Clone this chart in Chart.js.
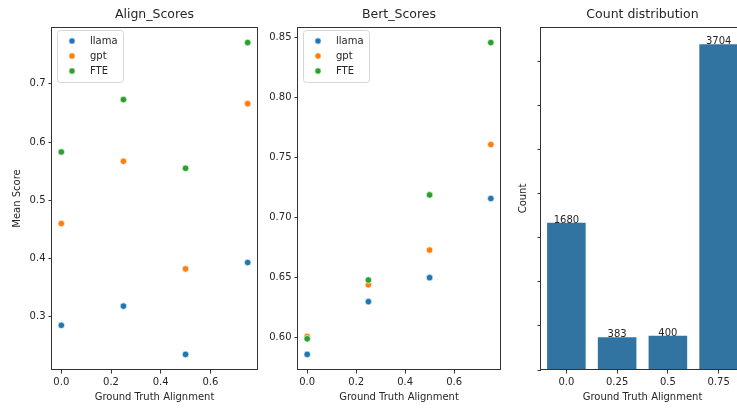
<!DOCTYPE html>
<html><head><meta charset="utf-8">
<script src="https://cdn.jsdelivr.net/npm/chart.js@4"></script>
<style>
html,body{margin:0;padding:0;background:#fff;width:737px;height:408px;overflow:hidden;position:relative}
canvas{position:absolute;top:0}
</style></head><body>
<canvas id="c1" width="262" height="408" style="left:0px"></canvas>
<canvas id="c2" width="247" height="408" style="left:258px"></canvas>
<canvas id="c3" width="245" height="408" style="left:504px"></canvas>
<script>
// ---- data ----
const groundTruth = [0, 0.25, 0.5, 0.75];
const seriesNames = ['llama', 'gpt', 'FTE'];
const alignLlama = [0.285, 0.318, 0.235, 0.393];
const alignGpt   = [0.460, 0.567, 0.382, 0.666];
const alignFte   = [0.583, 0.673, 0.555, 0.771];
const bertLlama  = [0.586, 0.630, 0.650, 0.716];
const bertGpt    = [0.601, 0.644, 0.673, 0.761];
const bertFte    = [0.599, 0.648, 0.719, 0.846];
const countLabels = ['0.0', '0.25', '0.5', '0.75'];
const counts = [1680, 383, 400, 3704];
const scoreXTicks = [0, 0.2, 0.4, 0.6];
const alignYTicks = [0.3, 0.4, 0.5, 0.6, 0.7];
const bertYTicks = [0.60, 0.65, 0.70, 0.75, 0.80, 0.85];
const countYTicks = [0, 500, 1000, 1500, 2000, 2500, 3000, 3500];

// ---- style ----
const seriesColors = ['#1f77b4', '#ff7f0e', '#2ca02c'];
const barColor = '#3274a1';
const textColor = '#262626';
const FONT = 'DejaVu Sans';
Chart.defaults.font.family = FONT;
Chart.defaults.color = textColor;

function padRange(arr) {
  const mn = Math.min(...arr), mx = Math.max(...arr), m = (mx - mn) * 0.05;
  return [mn - m, mx + m];
}

const spines = {
  id: 'spines',
  afterDraw(chart) {
    const a = chart.chartArea, ctx = chart.ctx;
    ctx.save();
    ctx.strokeStyle = '#333';
    ctx.lineWidth = 1;
    ctx.strokeRect(Math.round(a.left) - 0.5, Math.round(a.top) + 0.5,
                   Math.round(a.right) - Math.round(a.left) + 1, Math.round(a.bottom) - Math.round(a.top) - 1);
    ctx.restore();
  }
};

const legendBox = {
  id: 'legendBox',
  afterDatasetsDraw(chart, args, opts) {
    if (!opts || !opts.show) return;
    const a = chart.chartArea, ctx = chart.ctx;
    const x = a.left + 5, y = a.top + 3, w = 66, h = 52, r = 3;
    ctx.save();
    ctx.beginPath();
    ctx.roundRect(x + 0.5, y + 0.5, w, h, r);
    ctx.fillStyle = 'rgba(255,255,255,0.8)';
    ctx.fill();
    ctx.strokeStyle = '#d6d6d6';
    ctx.lineWidth = 1;
    ctx.stroke();
    ctx.font = '10px "' + FONT + '"';
    ctx.textBaseline = 'middle';
    ctx.textAlign = 'left';
    chart.data.datasets.forEach((ds, i) => {
      const cy = y + 11 + i * 15;
      ctx.beginPath();
      ctx.arc(x + 15, cy, 3.2, 0, Math.PI * 2);
      ctx.fillStyle = ds.backgroundColor;
      ctx.fill();
      ctx.strokeStyle = '#fff';
      ctx.lineWidth = 0.7;
      ctx.stroke();
      ctx.fillStyle = textColor;
      ctx.fillText(ds.label, x + 33, cy + 0.5);
    });
    ctx.restore();
  }
};

const barLabels = {
  id: 'barLabels',
  afterDatasetsDraw(chart, args, opts) {
    if (!opts || !opts.show) return;
    const ctx = chart.ctx;
    const meta = chart.getDatasetMeta(0);
    const vals = chart.data.datasets[0].data;
    ctx.save();
    ctx.font = '10px "' + FONT + '"';
    ctx.fillStyle = textColor;
    ctx.textAlign = 'center';
    ctx.textBaseline = 'alphabetic';
    meta.data.forEach((bar, i) => {
      ctx.fillText(String(vals[i]), bar.x, bar.y + 1);
    });
    ctx.restore();
  }
};

const tickFont = { size: 10 };
const gridOpts = { display: true, drawOnChartArea: false, drawTicks: true, tickLength: 3.5, tickColor: '#333', tickWidth: 1 };

function titleOpts(text) {
  return { display: true, fullSize: false, text: text, color: textColor,
           font: { size: 12.5, weight: 'normal' }, padding: { top: 7.5, bottom: 4.5 } };
}

function xTitle(text) {
  return { display: true, text: text, color: textColor, font: { size: 10 }, padding: { top: 2, bottom: 4.5 } };
}

function scatterChart(id, title, ys, yTicks, yWidth, yLabel, yTitlePad) {
  const all = [].concat(...ys);
  const [ymin, ymax] = padRange(all);
  const [xmin, xmax] = padRange(groundTruth);
  const datasets = ys.map((arr, k) => ({
    label: seriesNames[k],
    data: groundTruth.map((x, i) => ({ x: x, y: arr[i] })),
    backgroundColor: seriesColors[k],
    borderColor: '#ffffff',
    borderWidth: 0.7,
    pointRadius: 3.3,
    order: 3 - k
  }));
  return new Chart(document.getElementById(id), {
    type: 'scatter',
    data: { datasets: datasets },
    options: {
      responsive: false, animation: false,
      layout: { padding: { left: 0, right: 5, top: 0, bottom: 0 } },
      plugins: {
        legend: { display: false }, tooltip: { enabled: false },
        title: titleOpts(title),
        legendBox: { show: true }
      },
      scales: {
        x: {
          type: 'linear', min: xmin, max: xmax,
          afterBuildTicks: s => { s.ticks = scoreXTicks.map(v => ({ value: v })); },
          afterFit: s => { s.height = 38; },
          ticks: { font: tickFont, padding: 3, maxRotation: 0, callback: v => v.toFixed(1) },
          grid: gridOpts, border: { display: false },
          title: xTitle('Ground Truth Alignment')
        },
        y: {
          type: 'linear', min: ymin, max: ymax,
          afterBuildTicks: s => { s.ticks = yTicks.map(v => ({ value: v })); },
          afterFit: s => { s.width = yWidth; },
          ticks: { font: tickFont, padding: 3,
                   callback: v => (yTicks === bertYTicks ? v.toFixed(2) : v.toFixed(1)) },
          grid: gridOpts, border: { display: false },
          title: yLabel ? { display: true, text: yLabel, color: textColor, font: { size: 10 },
                            padding: { top: yTitlePad, bottom: 2 } } : { display: false }
        }
      }
    },
    plugins: [spines, legendBox]
  });
}

scatterChart('c1', 'Align_Scores', [alignLlama, alignGpt, alignFte], alignYTicks, 52, 'Mean Score', 11.3);
scatterChart('c2', 'Bert_Scores', [bertLlama, bertGpt, bertFte], bertYTicks, 40, null, 0);

new Chart(document.getElementById('c3'), {
  type: 'bar',
  data: {
    labels: countLabels,
    datasets: [{
      label: 'Count', data: counts,
      backgroundColor: barColor,
      borderColor: 'rgba(255,255,255,0.35)', borderWidth: 1,
      barPercentage: 0.8, categoryPercentage: 1.0
    }]
  },
  options: {
    responsive: false, animation: false,
    layout: { padding: { left: 0, right: 5, top: 0, bottom: 0 } },
    plugins: {
      legend: { display: false }, tooltip: { enabled: false },
      title: titleOpts('Count distribution'),
      barLabels: { show: true }
    },
    scales: {
      x: {
        type: 'category', offset: true,
        afterFit: s => { s.height = 38; },
        ticks: { font: tickFont, padding: 3, maxRotation: 0 },
        grid: Object.assign({}, gridOpts, { offset: false }), border: { display: false },
        title: xTitle('Ground Truth Alignment')
      },
      y: {
        type: 'linear', min: 0, max: Math.max(...counts) * 1.05,
        afterBuildTicks: s => { s.ticks = countYTicks.map(v => ({ value: v })); },
        afterFit: s => { s.width = 37; },
        ticks: { font: tickFont, padding: 3, callback: () => '' },
        grid: gridOpts, border: { display: false },
        title: { display: true, text: 'Count', color: textColor, font: { size: 10 }, padding: { top: 13, bottom: 2 } }
      }
    }
  },
  plugins: [spines, barLabels]
});
</script>
</body></html>
